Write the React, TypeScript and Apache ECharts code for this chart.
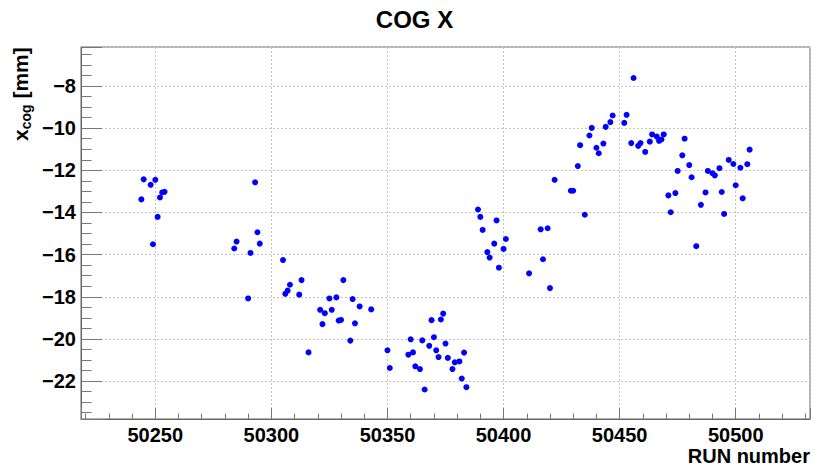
import React, { useEffect, useRef } from "react";
import * as echarts from "echarts";

// Run numbers and centre-of-gravity X position (mm) for each run
const runs: number[] = [
  50245, 50250, 50248, 50253, 50254, 50244, 50252, 50251, 50249,
  50293, 50294, 50285, 50284, 50295, 50291, 50290,
  50305, 50313, 50308, 50307, 50306, 50312, 50316, 50331, 50321, 50323,
  50325, 50328, 50326, 50322, 50329, 50330, 50335, 50338, 50336, 50343, 50334,
  50350, 50351, 50360, 50359, 50361, 50362, 50364, 50366, 50365, 50368,
  50370, 50369, 50373, 50374, 50371, 50372, 50375, 50376, 50379, 50381,
  50383, 50378, 50382, 50384,
  50389, 50390, 50397, 50391, 50401, 50396, 50393, 50400, 50394, 50398,
  50411, 50416, 50419, 50417, 50420, 50422, 50429, 50430, 50435, 50432,
  50433, 50437, 50438, 50440, 50441, 50443, 50444, 50446, 50447, 50453,
  50452, 50456, 50455, 50458, 50459, 50461, 50463, 50464, 50466, 50467,
  50468, 50469,
  50478, 50477, 50480, 50475, 50481, 50471, 50474, 50472, 50483, 50485,
  50487, 50488, 50490, 50491, 50493, 50494, 50495, 50497, 50499, 50500,
  50502, 50503, 50505, 50506,
];

const xcog: number[] = [
  -12.43, -12.45, -12.69, -13.05, -13.02, -13.38, -13.29, -14.21, -15.51,
  -12.57, -14.94, -15.38, -15.71, -15.48, -15.92, -18.08,
  -16.26, -17.21, -17.43, -17.71, -17.86, -17.9, -20.64, -17.21, -18.62, -18.78,
  -18.08, -18.03, -18.62, -19.3, -19.13, -19.1, -18.11, -18.46, -19.26, -18.6, -20.08,
  -20.54, -21.38, -20.02, -20.75, -20.64, -21.3, -21.43, -22.4, -20.07, -20.33,
  -19.92, -19.11, -19.08, -18.8, -20.54, -20.86, -20.22, -20.9, -21.11, -21.07,
  -20.65, -21.43, -21.88, -22.29,
  -13.86, -14.21, -14.38, -14.83, -15.26, -15.48, -15.88, -15.73, -16.14, -16.62,
  -16.89, -14.8, -14.75, -16.22, -17.59, -12.45, -12.97, -12.97, -14.11, -11.8,
  -10.81, -10.35, -9.99, -10.93, -11.19, -10.73, -9.94, -9.71, -9.4, -9.37,
  -9.75, -7.62, -10.71, -10.84, -10.71, -11.13, -10.64, -10.3, -10.4, -10.6,
  -10.54, -10.3,
  -10.5, -11.29, -11.75, -12.03, -12.33, -13.19, -13.08, -13.99, -15.6, -13.64,
  -13.05, -12.03, -12.14, -12.24, -11.9, -13.03, -14.07, -11.51, -11.7, -12.71,
  -11.88, -13.33, -11.71, -11.02,
];

const chartTitle = "COG X";
const xTitle = "RUN number";

const FONT = '"Liberation Sans", Arial, Helvetica, sans-serif';
const FRAME = "#666666";
const TICK = "#777777";
const GRID = "#c4c4c4";

export default function App() {
  const ref = useRef<HTMLDivElement>(null);

  useEffect(() => {
    if (!ref.current) return;
    const chart = echarts.init(ref.current, undefined, { renderer: "svg" });

    const points = runs.map((r, i) => [r, xcog[i]]);
    const minus = (v: number) => String(v).replace("-", "\u2212");

    chart.setOption({
      animation: false,
      backgroundColor: "#ffffff",
      grid: {
        left: 81,
        top: 47,
        width: 729,
        height: 372,
        show: true,
        borderColor: FRAME,
        borderWidth: 1,
        backgroundColor: "transparent",
      },
      xAxis: {
        type: "value",
        min: 50218,
        max: 50532,
        splitNumber: 6,
        minInterval: 50,
        maxInterval: 50,
        axisLine: { show: true, lineStyle: { color: FRAME, width: 1 } },
        axisTick: { show: true, inside: true, length: 11, lineStyle: { color: TICK, width: 1 } },
        minorTick: { show: true, splitNumber: 5, length: 5.5, lineStyle: { color: TICK, width: 1 } },
        axisLabel: {
          show: true,
          showMinLabel: false,
          showMaxLabel: false,
          margin: 6,
          fontFamily: FONT,
          fontWeight: "bold",
          fontSize: 20,
          color: "#000",
          formatter: (v: number) => String(v),
        },
        splitLine: { show: true, lineStyle: { color: GRID, width: 1, type: [2, 2] } },
      },
      yAxis: {
        type: "value",
        min: -23.8,
        max: -6.15,
        splitNumber: 9,
        minInterval: 2,
        maxInterval: 2,
        axisLine: { show: true, lineStyle: { color: FRAME, width: 1 } },
        axisTick: { show: true, inside: true, length: 21, lineStyle: { color: TICK, width: 1 } },
        minorTick: { show: true, splitNumber: 4, length: 10.5, lineStyle: { color: TICK, width: 1 } },
        axisLabel: {
          show: true,
          showMinLabel: false,
          showMaxLabel: false,
          margin: 5,
          fontFamily: FONT,
          fontWeight: "bold",
          fontSize: 20,
          color: "#000",
          formatter: (v: number) => minus(v),
        },
        splitLine: { show: true, lineStyle: { color: GRID, width: 1, type: [2, 2] } },
      },
      series: [
        {
          type: "scatter",
          data: points,
          symbol: "circle",
          symbolSize: 6,
          itemStyle: { color: "#0000ff", opacity: 1 },
          z: 5,
        },
      ],
      graphic: [
        {
          type: "text",
          x: 414.5,
          y: 19,
          style: {
            text: chartTitle,
            fontFamily: FONT,
            fontWeight: "bold",
            fontSize: 24,
            fill: "#000",
            align: "center",
            verticalAlign: "middle",
          },
        },
        {
          type: "text",
          x: 810,
          y: 455.5,
          style: {
            text: xTitle,
            fontFamily: FONT,
            fontWeight: "bold",
            fontSize: 20,
            lineHeight: 20,
            fill: "#000",
            align: "right",
            verticalAlign: "middle",
          },
        },
        {
          // y-axis title, read bottom to top, with a subscript
          type: "text",
          x: 20,
          y: 141,
          rotation: Math.PI / 2,
          style: {
            text: "{x|x}{sub|cog}{u| [mm]}",
            fill: "#000",
            align: "left",
            verticalAlign: "middle",
            rich: {
              x: { fontFamily: FONT, fontWeight: "bold", fontSize: 21, fill: "#000" },
              sub: {
                fontFamily: FONT,
                fontWeight: "bold",
                fontSize: 14,
                fill: "#000",
                padding: [11, 0, 0, 0],
              },
              u: { fontFamily: FONT, fontWeight: "bold", fontSize: 21, fill: "#000" },
            },
          },
        },
      ],
    });

    return () => chart.dispose();
  }, []);

  return (
    <div
      ref={ref}
      style={{ position: "absolute", left: 0, top: 0, width: 814, height: 466 }}
    />
  );
}
